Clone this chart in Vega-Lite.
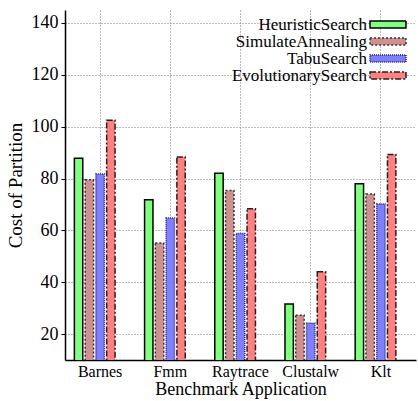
{
  "$schema": "https://vega.github.io/schema/vega-lite/v6.json",
  "width": 351,
  "height": 350,
  "autosize": {"type": "none"},
  "padding": {"left": 65, "top": 10, "right": 2, "bottom": 41},
  "config": {
    "font": "Liberation Serif",
    "view": {"stroke": null},
    "axis": {"labelFont": "Liberation Serif", "titleFont": "Liberation Serif", "titleFontWeight": "normal", "labelColor": "#000", "titleColor": "#000"}
  },
  "data": {
    "values": [
      {"app": "Barnes", "method": "HeuristicSearch", "cost": 87.8},
      {"app": "Barnes", "method": "SimulateAnnealing", "cost": 79.5},
      {"app": "Barnes", "method": "TabuSearch", "cost": 81.7},
      {"app": "Barnes", "method": "EvolutionarySearch", "cost": 102.5},
      {"app": "Fmm", "method": "HeuristicSearch", "cost": 71.8},
      {"app": "Fmm", "method": "SimulateAnnealing", "cost": 55.1},
      {"app": "Fmm", "method": "TabuSearch", "cost": 64.8},
      {"app": "Fmm", "method": "EvolutionarySearch", "cost": 88.3},
      {"app": "Raytrace", "method": "HeuristicSearch", "cost": 82.0},
      {"app": "Raytrace", "method": "SimulateAnnealing", "cost": 75.4},
      {"app": "Raytrace", "method": "TabuSearch", "cost": 58.8},
      {"app": "Raytrace", "method": "EvolutionarySearch", "cost": 68.3},
      {"app": "Clustalw", "method": "HeuristicSearch", "cost": 31.6},
      {"app": "Clustalw", "method": "SimulateAnnealing", "cost": 27.3},
      {"app": "Clustalw", "method": "TabuSearch", "cost": 24.2},
      {"app": "Clustalw", "method": "EvolutionarySearch", "cost": 44.0},
      {"app": "Klt", "method": "HeuristicSearch", "cost": 78.0},
      {"app": "Klt", "method": "SimulateAnnealing", "cost": 74.0},
      {"app": "Klt", "method": "TabuSearch", "cost": 70.2},
      {"app": "Klt", "method": "EvolutionarySearch", "cost": 89.3}
    ]
  },
  "mark": {"type": "bar", "strokeWidth": 1.5, "clip": true},
  "encoding": {
    "x": {
      "field": "app", "type": "nominal", "sort": null,
      "scale": {"paddingInner": 0.267, "paddingOuter": 0.1335},
      "axis": {
        "title": "Benchmark Application", "labelAngle": 0, "labelFontSize": 16, "titleFontSize": 18,
        "labelPadding": 3, "titlePadding": 1, "domainColor": "#000", "domainWidth": 1.5,
        "ticks": false, "grid": true, "gridDash": [1, 2], "gridColor": "#777", "bandPosition": 0.5
      }
    },
    "xOffset": {
      "field": "method", "type": "nominal",
      "scale": {"domain": ["HeuristicSearch", "SimulateAnnealing", "TabuSearch", "EvolutionarySearch", "zz"], "paddingInner": 0.22, "paddingOuter": 0}
    },
    "y": {
      "field": "cost", "type": "quantitative",
      "scale": {"domain": [10, 145], "nice": false, "zero": false},
      "axis": {
        "title": "Cost of Partition", "values": [20, 40, 60, 80, 100, 120, 140], "labelFontSize": 18, "titleFontSize": 19,
        "labelPadding": 3, "titlePadding": 6, "tickSize": 4, "tickColor": "#000", "domainColor": "#000", "domainWidth": 1.5,
        "grid": true, "gridDash": [1, 2], "gridColor": "#777"
      }
    },
    "fill": {
      "field": "method", "type": "nominal",
      "scale": {"domain": ["HeuristicSearch", "SimulateAnnealing", "TabuSearch", "EvolutionarySearch"], "range": ["#80ff80", "#d09090", "#8080ff", "#ff8080"]},
      "legend": {
        "title": null, "orient": "none", "legendX": 314.5, "legendY": 6,
        "symbolType": "M-4,-0.8L4,-0.8L4,0.8L-4,0.8Z", "symbolSize": 81, "symbolStrokeWidth": 1.5, "symbolOpacity": 1,
        "labelFontSize": 17, "labelFont": "Liberation Serif", "labelColor": "#000", "labelAlign": "right", "labelOffset": -29.5, "labelLimit": 300,
        "rowPadding": -3.2
      }
    },
    "stroke": {
      "field": "method", "type": "nominal",
      "scale": {"domain": ["HeuristicSearch", "SimulateAnnealing", "TabuSearch", "EvolutionarySearch"], "range": ["#000000", "#333333", "#202080", "#222222"]},
      "legend": null
    },
    "strokeDash": {
      "field": "method", "type": "nominal",
      "scale": {"domain": ["HeuristicSearch", "SimulateAnnealing", "TabuSearch", "EvolutionarySearch"], "range": [[1, 0], [2, 2], [1, 1], [6, 2, 2, 2]]},
      "legend": null
    }
  }
}
